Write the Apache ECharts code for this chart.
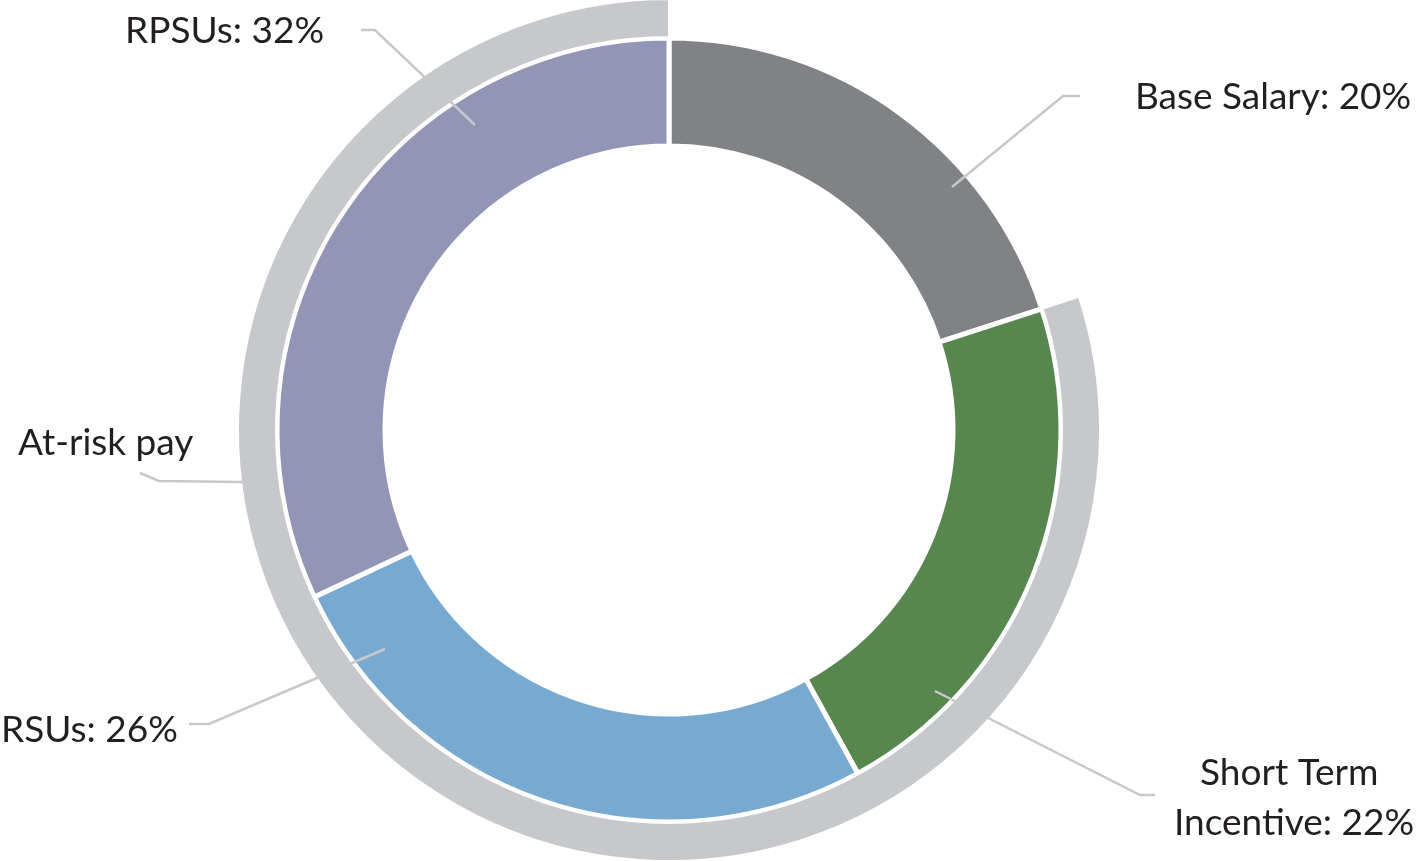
<!DOCTYPE html>
<html>
<head>
<meta charset="utf-8">
<title>Pay mix</title>
<script src="https://cdn.jsdelivr.net/npm/echarts@6/dist/echarts.min.js"></script>
<style>
    html, body { margin: 0; padding: 0; background: #fff; }
    #chart { width: 1419px; height: 861px; }
</style>
</head>
<body>
<div id="chart"></div>
<script>
// pay elements (inner ring), clockwise from 12 o'clock
var categories = ['Base Salary', 'Short Term Incentive', 'RSUs', 'RPSUs'];
var shares = [20, 22, 26, 32];
var colors = ['#818285', '#57864f', '#78a9d1', '#9395b7'];

// outer ring: fixed pay (left blank) vs at-risk pay
var groupNames = ['Fixed pay', 'At-risk pay'];
var groupShares = [20, 80];

// where the labels sit and how their leader lines run
var innerLabelSpots = [
    { x: 1135, y: 97, align: 'left', line: [[952, 187], [1063, 96], [1080, 96]] },
    { x: 1294, y: 798, align: 'center', line: [[935, 691], [1140, 795], [1155, 795]] },
    { x: 1, y: 730, align: 'left', line: [[385, 649], [209, 724], [189, 724]] },
    { x: 125, y: 31, align: 'left', line: [[475, 125], [375, 30], [361, 30]] }
];
var outerLabelSpots = [
    null,
    { x: 18, y: 443, align: 'left', line: [[242, 482], [159, 481], [140, 473]] }
];

var CENTER = [669, 430];
var INNER_RADIUS = [284, 392];
var OUTER_RADIUS = [393, 431];

var textStyle = {
    fontFamily: 'Lato',
    fontSize: 37,
    color: '#231f20',
    lineHeight: 50
};
var lineStyle = { color: '#c7c8ca', width: 2.5 };

function spotLayout(spots) {
    return function(params) {
        var s = spots[params.dataIndex];
        if (!s) return {};
        return {
            x: s.x,
            y: s.y,
            align: s.align,
            verticalAlign: 'middle',
            labelLinePoints: s.line
        };
    };
}

function ring(name, radius, data, z, border) {
    return {
        name: name,
        type: 'pie',
        z: z,
        center: CENTER,
        radius: radius,
        startAngle: 90,
        clockwise: true,
        silent: true,
        emphasis: { disabled: true },
        itemStyle: { borderColor: '#fff', borderWidth: border },
        label: { show: false },
        labelLine: { show: false },
        data: data
    };
}

// transparent copy of a ring that only carries labels + leader lines,
// so the lines are painted on top of the coloured rings
function labelRing(name, radius, data, spots, formatter) {
    return {
        name: name,
        type: 'pie',
        z: 10,
        center: CENTER,
        radius: radius,
        startAngle: 90,
        clockwise: true,
        silent: true,
        avoidLabelOverlap: false,
        emphasis: { disabled: true },
        itemStyle: { color: 'rgba(0,0,0,0)', borderWidth: 0 },
        label: Object.assign({ show: true, position: 'outside', formatter: formatter }, textStyle),
        labelLine: { show: true, lineStyle: lineStyle },
        labelLayout: spotLayout(spots),
        data: data
    };
}

var chart = echarts.init(document.getElementById('chart'), null, { renderer: 'canvas' });

var innerData = categories.map(function(name, i) {
    return { name: name, value: shares[i], itemStyle: { color: colors[i] } };
});
var innerLabels = categories.map(function(name, i) {
    var item = { name: name, value: shares[i] };
    if (i === 1) {
        item.label = { width: 250, overflow: 'break', align: 'center' };
    }
    return item;
});

var outerData = groupNames.map(function(name, i) {
    return {
        name: name, value: groupShares[i],
        itemStyle: i === 0 ? { color: 'rgba(0,0,0,0)', borderWidth: 0 } : { color: '#c7c8cb' }
    };
});
var outerLabels = groupNames.map(function(name, i) {
    var item = { name: name, value: groupShares[i] };
    if (i === 0) {
        item.label = { show: false };
        item.labelLine = { show: false };
    }
    return item;
});

chart.setOption({
    animation: false,
    series: [
        ring('Pay elements', INNER_RADIUS, innerData, 2, 5),
        ring('Pay type', OUTER_RADIUS, outerData, 2, 2),
        labelRing('Pay elements labels', INNER_RADIUS, innerLabels, innerLabelSpots, '{b}: {c}%'),
        labelRing('Pay type labels', OUTER_RADIUS, outerLabels, outerLabelSpots, '{b}')
    ]
});
</script>
</body>
</html>
